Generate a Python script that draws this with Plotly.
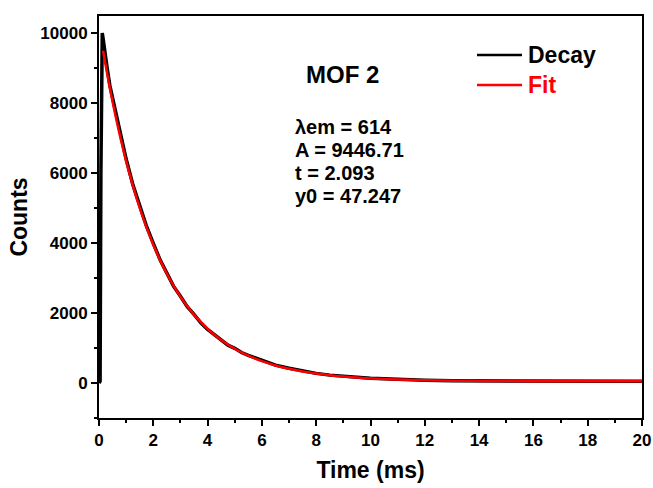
import plotly.graph_objects as go

# Decay data
decay_t = [0, 0.04, 0.07, 0.1, 0.12, 0.15, 0.2, 0.3, 0.4, 0.5, 0.6, 0.75, 0.9, 1.0,
           1.25, 1.5, 1.75, 2.0, 2.25, 2.5, 2.75, 3.0, 3.25, 3.5, 3.75, 4.0, 4.25,
           4.5, 4.75, 5.0, 5.25, 5.5, 6.0, 6.5, 7.0, 7.5, 8.0, 8.5, 9.0, 9.5, 10.0,
           10.5, 11, 12, 13, 14, 15, 16, 17, 18, 19, 20]
decay_y = [0, 50, 6000, 9900, 10000, 9850, 9500, 9000, 8500, 8150, 7750, 7200, 6720, 6400,
           5660, 5040, 4480, 3990, 3520, 3140, 2760, 2480, 2180, 1960, 1720, 1530, 1390,
           1240, 1080, 990, 870, 790, 640, 510, 420, 335, 275, 225, 190, 160, 135,
           118, 102, 82, 66, 60, 54, 52, 50, 49, 47, 48]

# Fit curve
fit_t = [0.15, 0.2, 0.3, 0.4, 0.5, 0.6, 0.75, 0.9, 1.0, 1.25, 1.5, 1.75, 2.0, 2.25, 2.5,
         2.75, 3.0, 3.25, 3.5, 3.75, 4.0, 4.25, 4.5, 4.75, 5.0, 5.25, 5.5, 6.0, 6.5,
         7.0, 7.5, 8.0, 8.5, 9.0, 9.5, 10.0, 10.5, 11, 12, 13, 14, 15, 16, 17, 18, 19, 20]
fit_y = [9494, 9271, 8840, 8430, 8039, 7666, 7140, 6648, 6340, 5632, 5003, 4445, 3950, 3510, 3121,
         2775, 2467, 2195, 1953, 1738, 1548, 1379, 1229, 1096, 978, 873, 780, 624, 502,
         405, 329, 269, 222, 185, 155, 132, 114, 100, 80, 67, 60, 55, 52, 51, 49, 48, 48]

x_ticks = [0, 2, 4, 6, 8, 10, 12, 14, 16, 18, 20]
y_ticks = [0, 2000, 4000, 6000, 8000, 10000]
y_tick_labels = ["0", "2000", "4000", "6000", "8000", "10000"]

FONT = "Arial, Liberation Sans, sans-serif"

fig = go.Figure()
fig.add_trace(go.Scatter(x=decay_t, y=decay_y, mode="lines", name="Decay",
                         line=dict(color="black", width=3.5)))
fig.add_trace(go.Scatter(x=fit_t, y=fit_y, mode="lines", name="Fit",
                         line=dict(color="#ff0000", width=2.5, shape="spline")))

axis_common = dict(showline=True, linecolor="black", linewidth=2, mirror=True,
                   ticks="outside", ticklen=6, tickwidth=2, tickcolor="black",
                   showgrid=False, zeroline=False, automargin=False,
                   tickfont=dict(family=FONT, size=17, color="black", weight="bold"))

fig.update_xaxes(range=[0, 20], tickvals=x_ticks, ticktext=[str(v) for v in x_ticks],
                 title=dict(text="<b>Time (ms)</b>", font=dict(family=FONT, size=23, color="black"),
                            standoff=12),
                 minor=dict(dtick=1, ticks="outside", ticklen=3, tickwidth=2, tickcolor="black"),
                 **axis_common)
fig.update_yaxes(range=[-1000, 10486], tickvals=y_ticks, ticktext=y_tick_labels,
                 title=dict(text="<b>Counts</b>", font=dict(family=FONT, size=23, color="black"),
                            standoff=6),
                 minor=dict(dtick=1000, ticks="outside", ticklen=3, tickwidth=2, tickcolor="black"),
                 **axis_common)

fig.update_layout(
    width=653, height=488,
    margin=dict(l=99, r=11, t=16, b=70),
    paper_bgcolor="white", plot_bgcolor="white",
    showlegend=False,
)

# convert pixel positions to paper coords
def px(x):
    return (x - 99) / (642 - 99)

def py(y):
    return (418 - y) / (418 - 16)

lines = ["λem = 614", "A = 9446.71", "t = 2.093", "y0 = 47.247"]
ys = [127, 150, 173, 196]

fig.add_annotation(x=px(304), y=py(74), xref="paper", yref="paper", text="<b>MOF 2</b>",
                   showarrow=False, xanchor="left", yanchor="middle",
                   font=dict(family=FONT, size=24, color="black"))
for t, yy in zip(lines, ys):
    fig.add_annotation(x=px(293), y=py(yy), xref="paper", yref="paper", text="<b>" + t + "</b>",
                       showarrow=False, xanchor="left", yanchor="middle",
                       font=dict(family=FONT, size=20, color="black"))

# legend drawn manually
for name, col, yy in [("Decay", "black", 55), ("Fit", "#ff0000", 85)]:
    fig.add_shape(type="line", xref="paper", yref="paper",
                  x0=px(477), x1=px(522), y0=py(yy), y1=py(yy),
                  line=dict(color=col, width=2.5))
    fig.add_annotation(x=px(526), y=py(yy), xref="paper", yref="paper", text="<b>" + name + "</b>",
                       showarrow=False, xanchor="left", yanchor="middle",
                       font=dict(family=FONT, size=23, color=col))

fig.write_html("out.html")
